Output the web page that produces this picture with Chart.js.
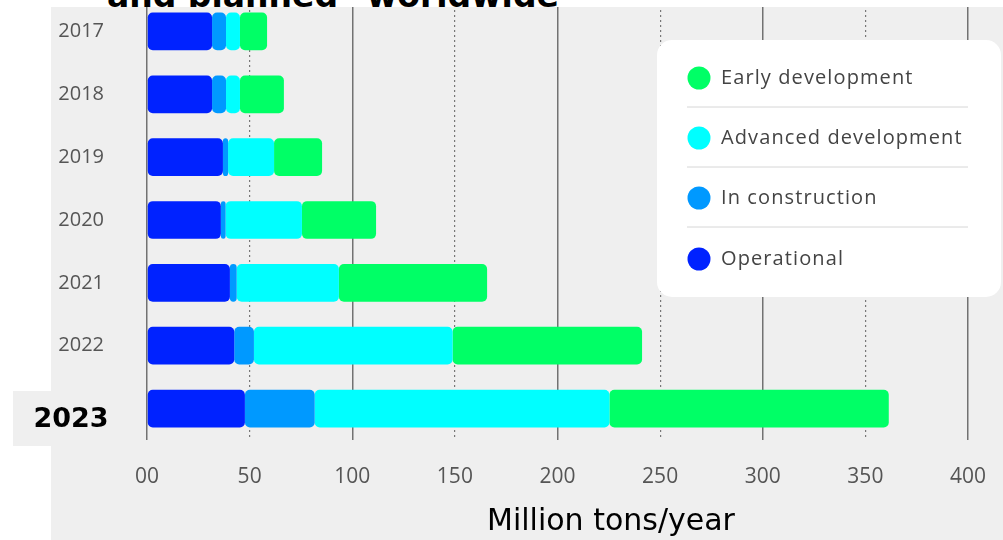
<!DOCTYPE html>
<html>
<head>
<meta charset="utf-8">
<script src="https://cdn.jsdelivr.net/npm/chart.js@4"></script>
<style>
  body { margin: 0; background: #fff; width: 1003px; height: 540px; overflow: hidden; position: relative; }
  #bg { position: absolute; left: 51px; top: 7px; right: 0; bottom: 0; background: #efefef; }
  #box2023 { position: absolute; left: 13px; top: 391px; width: 120px; height: 55px; background: #efefef; }
  #topband { position: absolute; left: 0; top: 0; width: 1003px; height: 7px; overflow: hidden; background: #fff; z-index: 3; }
  #title { position: absolute; left: 107px; top: -21px; font: bold 33px/33px "DejaVu Sans"; color: #000; white-space: nowrap; }
  #xtitle { position: absolute; left: 487px; top: 505px; font: 30px/30px "DejaVu Sans"; color: #000; white-space: nowrap; z-index: 3; }
  canvas { position: absolute; left: 0; top: 0; z-index: 2; }
</style>
</head>
<body>
<div id="bg"></div>
<div id="box2023"></div>
<div id="topband"><div id="title">and planned" worldwide</div></div>
<canvas id="chart" width="1003" height="540"></canvas>
<div id="xtitle">Million tons/year</div>
<script>
// data (million tons/year)
let years = ['2017', '2018', '2019', '2020', '2021', '2022', '2023'];
let operational = [31.7, 31.7, 37, 36, 40.4, 42.5, 47.7];
let inConstruction = [6.8, 6.8, 2.5, 2.3, 3.3, 9.6, 34];
let advancedDev = [6.8, 6.8, 22.4, 37.2, 49.8, 96.8, 143.6];
let earlyDev = [13.2, 21.4, 23.4, 36.1, 72.2, 92.3, 136.1];
let seriesNames = ['Operational', 'In construction', 'Advanced development', 'Early development'];
let seriesColors = ['#0022ff', '#0099ff', '#00ffff', '#00ff66'];

const allCorners = { topLeft: 5, topRight: 5, bottomLeft: 5, bottomRight: 5 };

function makeSet(i, values) {
    return {
        label: seriesNames[i],
        data: values,
        backgroundColor: seriesColors[i],
        borderWidth: 0,
        borderRadius: allCorners,
        borderSkipped: false,
        categoryPercentage: 1,
        barPercentage: 0.6
    };
}

// legend box on the right plus the bold 2023 label
const extras = {
    id: 'extras',
    afterDraw(chart) {
        const ctx = chart.ctx;
        ctx.save();
        // bold last year label, a bit below its bar
        const y = chart.scales.y;
        ctx.font = 'bold 27px "DejaVu Sans"';
        ctx.fillStyle = '#000';
        ctx.textAlign = 'center';
        ctx.textBaseline = 'middle';
        ctx.fillText(years[6], 71, y.getPixelForTick(6) + 11);

        // legend
        ctx.fillStyle = '#fff';
        ctx.beginPath();
        ctx.roundRect(657, 40, 344, 257, 15);
        ctx.fill();
        const rows = [78, 138, 198, 259];
        ctx.font = '20px "Open Sans"';
        ctx.letterSpacing = '1.1px';
        ctx.textAlign = 'left';
        for (let k = 0; k < 4; k++) {
            const idx = 3 - k;
            ctx.fillStyle = seriesColors[idx];
            ctx.beginPath();
            ctx.arc(699, rows[k], 11.5, 0, Math.PI * 2);
            ctx.fill();
            ctx.fillStyle = '#444';
            ctx.fillText(seriesNames[idx], 721, rows[k]);
            if (k < 3) {
                ctx.strokeStyle = '#d6d6d6';
                ctx.lineWidth = 1;
                ctx.beginPath();
                ctx.moveTo(687, rows[k] + 29);
                ctx.lineTo(968, rows[k] + 29);
                ctx.stroke();
            }
        }
        ctx.restore();
    }
};

const chart = new Chart(document.getElementById('chart'), {
    type: 'bar',
    data: {
        labels: years,
        datasets: [
            makeSet(0, operational),
            makeSet(1, inConstruction),
            makeSet(2, advancedDev),
            makeSet(3, earlyDev)
        ]
    },
    options: {
        indexAxis: 'y',
        responsive: false,
        animation: false,
        layout: { padding: { left: 0, right: 35, top: 0, bottom: 0 } },
        plugins: { legend: { display: false }, tooltip: { enabled: false } },
        scales: {
            y: {
                stacked: true,
                grid: { display: false, drawTicks: true, tickLength: 43 },
                border: { display: false },
                ticks: {
                    padding: 0,
                    color: '#555',
                    font: { family: 'Open Sans', size: 20 },
                    callback: (v, i) => i === 6 ? '' : years[i]
                },
                afterFit(scale) {
                    scale.width = 147;
                    scale.paddingTop = 0;
                    scale.paddingBottom = 0;
                }
            },
            x: {
                stacked: true,
                min: 0,
                max: 400,
                grid: {
                    drawTicks: false,
                    lineWidth: 1.5,
                    color: c => (c.tick && c.tick.value % 100 === 0) ? '#727272' : 'rgba(0,0,0,0)'
                },
                border: { display: false },
                ticks: {
                    stepSize: 50,
                    padding: 24,
                    color: '#555',
                    font: { family: 'Open Sans', size: 21 },
                    callback: v => v === 0 ? '00' : v
                },
                afterFit(scale) {
                    scale.height = 100;
                    scale.paddingLeft = 0;
                    scale.paddingRight = 0;
                }
            },
            x2: {
                type: 'linear',
                position: 'bottom',
                min: 0,
                max: 400,
                grid: {
                    drawTicks: false,
                    lineWidth: 1.2,
                    color: c => (c.tick && c.tick.value % 100 === 50) ? '#777' : 'rgba(0,0,0,0)'
                },
                border: { display: false, dash: [2, 3] },
                ticks: { display: false, stepSize: 50 },
                afterFit(scale) {
                    scale.height = 0;
                    scale.paddingLeft = 0;
                    scale.paddingRight = 0;
                }
            }
        }
    },
    plugins: [extras]
});
</script>
</body>
</html>
